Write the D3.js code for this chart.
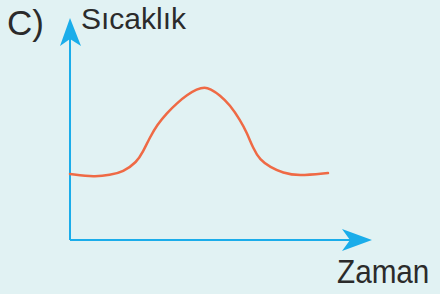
<!DOCTYPE html>
<html>
<head>
<meta charset="utf-8">
<script src="https://cdn.jsdelivr.net/npm/d3@7"></script>
<style>
  html, body { margin: 0; padding: 0; background: #e1f2f3; }
  svg { display: block; }
</style>
</head>
<body>
<div id="chart"></div>
<script>
// curve (time and temperature, arbitrary units 0-100)
const zaman = [0, 8.3, 13.3, 17.7, 22.3, 24.3, 26.7, 29, 32.3, 35.7, 39, 42.3, 45, 46.7, 50, 53.3, 56.7, 59, 61, 63.3, 66.7, 71, 76, 86];
const sicaklik = [33, 31.5, 32.5, 34, 39, 44, 51.5, 57.5, 63.5, 68.5, 72.5, 75.5, 76.5, 75.5, 72.5, 67.5, 60, 53.5, 46, 40, 36.5, 33.5, 32, 33.5];

const width = 440, height = 294;
const blue = '#1aadea';

const svg = d3.select('#chart')
  .append('svg')
  .attr('width', width)
  .attr('height', height);

svg.append('rect')
  .attr('width', width)
  .attr('height', height)
  .attr('fill', '#e1f2f3');

const x = d3.scaleLinear().domain([0, 100]).range([70, 370]);
const y = d3.scaleLinear().domain([0, 100]).range([240, 40]);

// axes
const x0 = x(0), y0 = y(0);
svg.append('line')
  .attr('x1', x0).attr('y1', y0)
  .attr('x2', x0).attr('y2', 30)
  .attr('stroke', blue).attr('stroke-width', 2);
svg.append('line')
  .attr('x1', x0).attr('y1', y0)
  .attr('x2', 355).attr('y2', y0)
  .attr('stroke', blue).attr('stroke-width', 2);

// arrow heads
svg.append('path')
  .attr('d', `M${x0},18 L${x0 + 11},46 L${x0},39 L${x0 - 10},46 Z`)
  .attr('fill', blue);
svg.append('path')
  .attr('d', `M372,${y0} L342,${y0 - 11} L350,${y0} L342,${y0 + 11} Z`)
  .attr('fill', blue);

// temperature curve (basis spline smooths the hand-read points)
const pts = zaman.map((t, i) => [t, sicaklik[i]]);
const line = d3.line()
  .x(d => x(d[0]))
  .y(d => y(d[1]))
  .curve(d3.curveBasis);

svg.append('path')
  .datum(pts)
  .attr('d', line)
  .attr('fill', 'none')
  .attr('stroke', '#ef6a45')
  .attr('stroke-width', 2.5)
  .attr('stroke-linecap', 'round');

// labels
const font = '"Liberation Sans", Arial, sans-serif';
svg.append('text')
  .attr('x', 7).attr('y', 35)
  .style('font-family', font).style('font-size', '35px')
  .attr('fill', '#2b2b2b')
  .text('C)');
svg.append('text')
  .attr('x', 81).attr('y', 29)
  .style('font-family', font).style('font-size', '30px')
  .attr('fill', '#2b2b2b')
  .text('Sıcaklık');
svg.append('text')
  .attr('transform', 'translate(337,283) scale(0.9,1)')
  .style('font-family', font).style('font-size', '33px')
  .attr('fill', '#2b2b2b')
  .text('Zaman');
</script>
</body>
</html>
